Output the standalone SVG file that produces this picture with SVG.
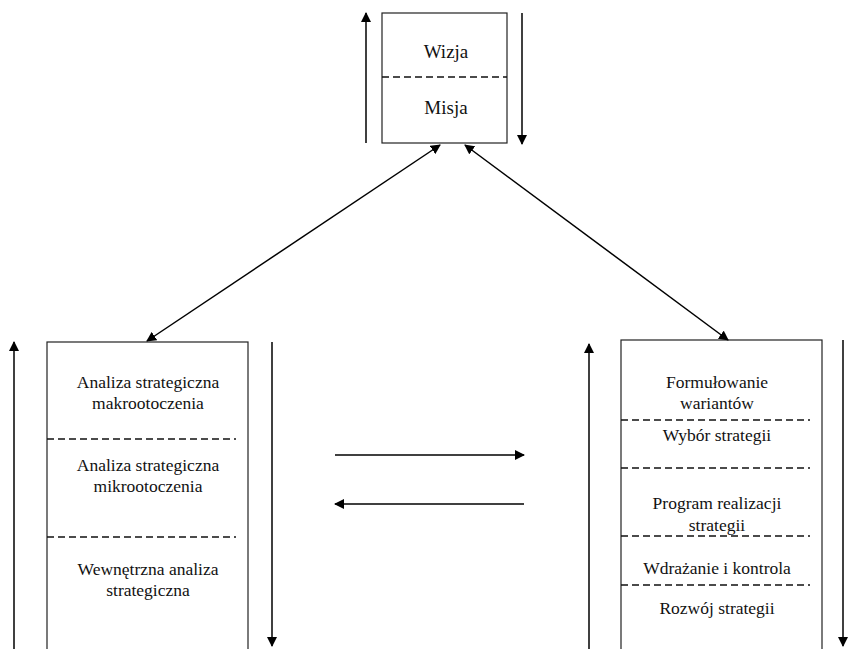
<svg xmlns="http://www.w3.org/2000/svg" width="848" height="649" viewBox="0 0 848 649">
<defs>
<marker id="ah" viewBox="0 0 10 10" refX="9" refY="5" markerWidth="10" markerHeight="10" markerUnits="userSpaceOnUse" orient="auto-start-reverse">
<path d="M0,0 L10,5 L0,10 z" fill="#000"/>
</marker>
<style>
.box{fill:#fff;stroke:#222;stroke-width:1.2}
.dash{stroke:#111;stroke-width:1.3;stroke-dasharray:7,4;fill:none}
.t{font-family:"Liberation Serif","Times New Roman",serif;font-size:17.5px;fill:#111;text-anchor:middle}
.tb{font-family:"Liberation Serif","Times New Roman",serif;font-size:19px;fill:#111;text-anchor:middle}
.ar{stroke:#000;stroke-width:1.5;fill:none}
</style>
</defs>
<rect width="848" height="649" fill="#fff"/>
<g id="top">
<rect class="box" x="382" y="13" width="125" height="130"/>
<line class="dash" x1="382" y1="77" x2="507" y2="77"/>
<text class="tb" x="446" y="58">Wizja</text>
<text class="tb" x="446" y="114">Misja</text>
</g>
<g id="left">
<rect class="box" x="47" y="342" width="201" height="320"/>
<line class="dash" x1="47" y1="439" x2="236" y2="439"/>
<line class="dash" x1="47" y1="537" x2="236" y2="537"/>
<text class="t" x="148" y="388">Analiza strategiczna</text>
<text class="t" x="148" y="409">makrootoczenia</text>
<text class="t" x="148" y="471">Analiza strategiczna</text>
<text class="t" x="148" y="492">mikrootoczenia</text>
<text class="t" x="148" y="575">Wewnętrzna analiza</text>
<text class="t" x="148" y="596">strategiczna</text>
</g>
<g id="right">
<rect class="box" x="621" y="340" width="201" height="320"/>
<line class="dash" x1="621" y1="420" x2="810" y2="420"/>
<line class="dash" x1="621" y1="468" x2="810" y2="468"/>
<line class="dash" x1="621" y1="536" x2="810" y2="536"/>
<line class="dash" x1="621" y1="585" x2="810" y2="585"/>
<text class="t" x="717" y="388">Formułowanie</text>
<text class="t" x="717" y="409">wariantów</text>
<text class="t" x="717" y="441">Wybór strategii</text>
<text class="t" x="717" y="509">Program realizacji</text>
<text class="t" x="717" y="531">strategii</text>
<text class="t" x="717" y="574">Wdrażanie i kontrola</text>
<text class="t" x="717" y="614">Rozwój strategii</text>
</g>
<g id="connectors">
<line class="ar" x1="366" y1="143" x2="366" y2="13" marker-end="url(#ah)"/>
<line class="ar" x1="522" y1="13" x2="522" y2="144" marker-end="url(#ah)"/>
<line class="ar" x1="440" y1="145" x2="147" y2="341" marker-start="url(#ah)" marker-end="url(#ah)"/>
<line class="ar" x1="465" y1="145" x2="728" y2="340" marker-start="url(#ah)" marker-end="url(#ah)"/>
<line class="ar" x1="14" y1="649" x2="14" y2="342" marker-end="url(#ah)"/>
<line class="ar" x1="272" y1="342" x2="272" y2="646" marker-end="url(#ah)"/>
<line class="ar" x1="589" y1="649" x2="589" y2="344" marker-end="url(#ah)"/>
<line class="ar" x1="843" y1="340" x2="843" y2="646" marker-end="url(#ah)"/>
<line class="ar" x1="335" y1="455" x2="524" y2="455" marker-end="url(#ah)"/>
<line class="ar" x1="524" y1="504" x2="335" y2="504" marker-end="url(#ah)"/>
</g>
</svg>
